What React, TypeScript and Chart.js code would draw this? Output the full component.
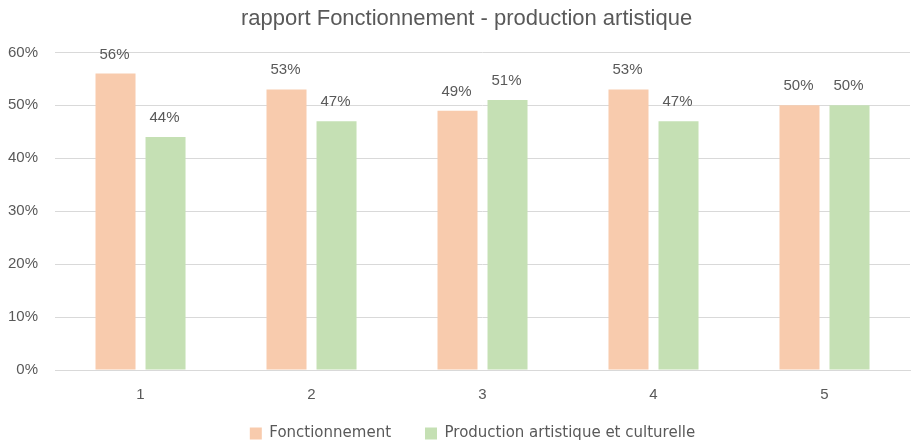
import React, { useEffect, useRef } from "react";
import { Chart, registerables } from "chart.js";

Chart.register(...registerables);

const categories = ["1", "2", "3", "4", "5"];
const fonctionnement = [0.56, 0.53, 0.49, 0.53, 0.5];
const production = [0.44, 0.47, 0.51, 0.47, 0.5];
const seriesNames = ["Fonctionnement", "Production artistique et culturelle"];
const titleText = "rapport Fonctionnement - production artistique";

const FONT = "'Liberation Sans', Arial, sans-serif";
const LEGEND_FONT = "'DejaVu Sans', sans-serif";
const TEXT = "#595959";

const valueLabels = {
  id: "valueLabels",
  afterDatasetsDraw(chart: any) {
    const ctx = chart.ctx;
    ctx.save();
    ctx.font = `15px ${FONT}`;
    ctx.fillStyle = TEXT;
    ctx.textAlign = "center";
    ctx.textBaseline = "alphabetic";
    chart.data.datasets.forEach((ds: any, i: number) => {
      const meta = chart.getDatasetMeta(i);
      meta.data.forEach((bar: any, j: number) => {
        const v = ds.data[j];
        ctx.fillText(Math.round(v * 100) + "%", bar.x - 1, bar.y - 15);
      });
    });
    ctx.restore();
  },
};

// nudges the title and legend boxes to where the reference places them
const boxNudge = {
  id: "boxNudge",
  afterLayout(chart: any) {
    const t = chart.titleBlock;
    if (t) {
      t.left += 16;
      t.right += 16;
    }
    const l = chart.legend;
    if (l) {
      l.left += 22;
      l.right += 22;
      l.top -= 12;
    }
  },
};

export default function App() {
  const ref = useRef<HTMLCanvasElement>(null);
  useEffect(() => {
    if (!ref.current) return;
    const chart = new Chart(ref.current, {
      type: "bar",
      data: {
        labels: categories,
        datasets: [
          {
            label: seriesNames[0],
            data: fonctionnement,
            backgroundColor: "#F8CBAD",
            categoryPercentage: 0.585,
            barPercentage: 0.8,
          },
          {
            label: seriesNames[1],
            data: production,
            backgroundColor: "#C5E0B4",
            categoryPercentage: 0.585,
            barPercentage: 0.8,
          },
        ],
      },
      options: {
        animation: false,
        responsive: false,
        maintainAspectRatio: false,
        layout: { padding: { left: -9, right: 6, top: 4, bottom: 0 } },
        plugins: {
          title: {
            display: true,
            text: titleText,
            color: TEXT,
            font: { family: FONT, size: 22, weight: "normal" },
            padding: { top: 2, bottom: 20 },
          },
          legend: {
            position: "bottom",
            maxHeight: 42,
            labels: {
              color: TEXT,
              font: { family: LEGEND_FONT, size: 15 },
              boxWidth: 12,
              boxHeight: 12,
              padding: 34,
            },
          },
          tooltip: { enabled: false },
        },
        scales: {
          x: {
            grid: { display: false, drawTicks: true, tickLength: 16 },
            border: { color: "#D9D9D9" },
            ticks: { color: TEXT, font: { family: FONT, size: 15 }, padding: 0 },
          },
          y: {
            min: 0,
            max: 0.6,
            grid: { color: "#D9D9D9", drawTicks: false },
            border: { display: false },
            ticks: {
              stepSize: 0.1,
              color: TEXT,
              font: { family: FONT, size: 15 },
              padding: 17,
              callback: (v: any) => Math.round(Number(v) * 100) + "%",
            },
          },
        },
      },
      plugins: [valueLabels, boxNudge],
    });
    return () => chart.destroy();
  }, []);
  return (
    <div style={{ position: "fixed", left: 0, top: 0, width: 916, height: 446, background: "#fff" }}>
      <canvas ref={ref} width={916} height={446} style={{ width: 916, height: 446 }} />
    </div>
  );
}
